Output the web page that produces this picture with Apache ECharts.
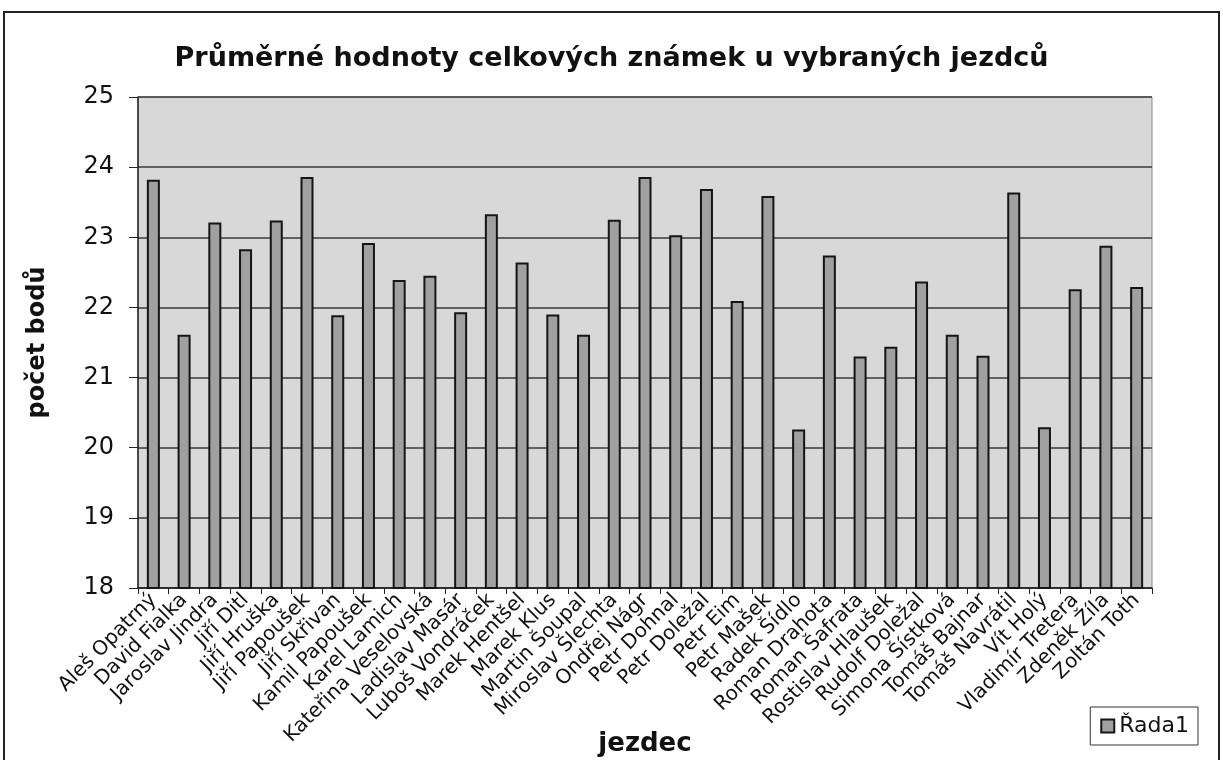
<!DOCTYPE html>
<html>
<head>
<meta charset="utf-8">
<script src="https://cdn.jsdelivr.net/npm/echarts@6/dist/echarts.min.js"></script>
<style>
  html, body { margin: 0; padding: 0; background: #fff; }
  #chart { width: 1223px; height: 760px; }
</style>
</head>
<body>
<div id="chart"></div>
<script>
// jezdci (kategorie) a jejich průměrné hodnoty
const riders = [
  'Aleš Opatrný', 'David Fialka', 'Jaroslav Jindra', 'Jiří Ditl', 'Jiří Hruška',
  'Jiří Papoušek', 'Jiří Skřivan', 'Kamil Papoušek', 'Karel Lamich', 'Kateřina Veselovská',
  'Ladislav Masár', 'Luboš Vondráček', 'Marek Hentšel', 'Marek Klus', 'Martin Šoupal',
  'Miroslav Šlechta', 'Ondřej Nágr', 'Petr Dohnal', 'Petr Doležal', 'Petr Eim',
  'Petr Mašek', 'Radek Šídlo', 'Roman Drahota', 'Roman Šafrata', 'Rostislav Hlaušek',
  'Rudolf Doležal', 'Simona Šístková', 'Tomáš Bajnar', 'Tomáš Navrátil', 'Vít Holý',
  'Vladimír Tretera', 'Zdeněk Žíla', 'Zoltán Toth'
];
const rada1 = [
  23.82, 21.61, 23.21, 22.83, 23.24,
  23.86, 21.89, 22.92, 22.39, 22.45,
  21.93, 23.33, 22.64, 21.90, 21.61,
  23.25, 23.86, 23.03, 23.69, 22.09,
  23.59, 20.26, 22.74, 21.30, 21.44,
  22.37, 21.61, 21.31, 23.64, 20.29,
  22.26, 22.88, 22.29
];
const yMin = 18, yMax = 25, yStep = 1;

const font = 'DejaVu Sans, Arial, sans-serif';
const chart = echarts.init(document.getElementById('chart'));

chart.setOption({
  animation: false,
  backgroundColor: '#fff',
  title: [{
    text: 'Průměrné hodnoty celkových známek u vybraných jezdců',
    left: 'center',
    top: 40,
    textStyle: { fontFamily: font, fontSize: 27, fontWeight: 'bold', color: '#111' }
  }, {
    // popisek osy x (jméno osy by se posunulo za otočené popisky)
    text: 'jezdec',
    left: 645,
    textAlign: 'center',
    top: 731,
    padding: 0,
    textStyle: { fontFamily: font, fontSize: 26, fontWeight: 'bold', color: '#111' }
  }],
  graphic: [{
    type: 'rect',
    shape: { x: 4, y: 12, width: 1215, height: 760 },
    style: { fill: null, stroke: '#222', lineWidth: 2 },
    silent: true
  }],
  legend: {
    data: ['Řada1'],
    right: 25,
    bottom: 15,
    orient: 'vertical',
    icon: 'rect',
    padding: [8, 9, 8, 10],
    borderColor: '#333',
    borderWidth: 1,
    itemWidth: 13,
    itemHeight: 13,
    itemGap: 6,
    textStyle: { fontFamily: font, fontSize: 22, color: '#111' }
  },
  grid: {
    left: 138,
    right: 71,
    top: 97,
    bottom: 172,
    outerBoundsMode: 'none',
    containLabel: false,
    show: true,
    backgroundColor: '#d8d8d8',
    borderColor: '#888',
    borderWidth: 1
  },
  xAxis: {
    type: 'category',
    data: riders,
    axisLine: { lineStyle: { color: '#222', width: 1.5 } },
    axisTick: { show: true, length: 6, lineStyle: { color: '#222' } },
    axisLabel: {
      interval: 0,
      rotate: 45,
      margin: 9,
      fontFamily: font,
      fontSize: 20,
      color: '#111'
    }
  },
  yAxis: {
    type: 'value',
    min: yMin,
    max: yMax,
    interval: yStep,
    name: 'počet bodů',
    nameLocation: 'middle',
    nameGap: 88,
    nameRotate: 90,
    nameTextStyle: { fontFamily: font, fontSize: 24, fontWeight: 'bold', color: '#111' },
    axisLine: { show: true, lineStyle: { color: '#222', width: 1.5 } },
    axisTick: { show: true, length: 9, lineStyle: { color: '#222' } },
    axisLabel: { fontFamily: font, fontSize: 24, color: '#111', margin: 24 },
    splitLine: { lineStyle: { color: '#3a3a3a', width: 1.5 } }
  },
  series: [{
    type: 'bar',
    name: 'Řada1',
    data: rada1,
    barWidth: 13,
    itemStyle: { color: '#a0a0a0', borderColor: '#151515', borderWidth: 2 }
  }]
});
</script>
</body>
</html>
